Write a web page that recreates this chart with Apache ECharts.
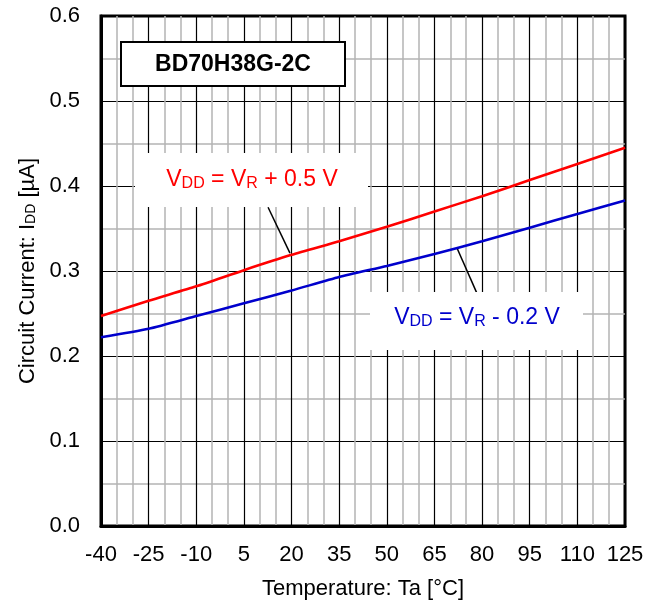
<!DOCTYPE html>
<html>
<head>
<meta charset="utf-8">
<script src="https://cdn.jsdelivr.net/npm/echarts@6/dist/echarts.min.js"></script>
<style>
  html, body { margin: 0; padding: 0; background: #fff; }
  #main { width: 664px; height: 611px; }
</style>
</head>
<body>
<div id="main"></div>
<script>
// temperatures [°C]
var temps = [-40, -25, -10, 5, 20, 35, 50, 65, 80, 95, 110, 125];
// IDD [uA] for VDD = VR + 0.5 V
var plus05 = [0.247, 0.265, 0.282, 0.301, 0.319, 0.335, 0.352, 0.370, 0.388, 0.407, 0.426, 0.445];
// IDD [uA] for VDD = VR - 0.2 V
var minus02 = [0.222, 0.232, 0.247, 0.262, 0.277, 0.293, 0.306, 0.320, 0.335, 0.351, 0.367, 0.383];

var font = 'Liberation Sans, Arial, sans-serif';

function pairs(xs, ys) {
	var out = [];
	for (var i = 0; i < xs.length; i++) {
		out.push([xs[i], ys[i]]);
	}
	return out;
}

var myChart = echarts.init(document.getElementById('main'));

var option = {
	animation: false,
	grid: {
		left: 101, right: 39, top: 16, bottom: 85,
		show: true, borderColor: '#000', borderWidth: 3, backgroundColor: '#fff'
	},
	xAxis: {
		type: 'value',
		min: -40, max: 125, interval: 15,
		name: 'Temperature: Ta [°C]',
		nameLocation: 'middle',
		nameGap: 52,
		nameTextStyle: { fontFamily: font, fontSize: 22, color: '#000' },
		axisLine: { show: true, onZero: false, lineStyle: { color: '#000', width: 3 } },
		axisTick: { show: false },
		axisLabel: { fontFamily: font, fontSize: 22, color: '#000', margin: 18 },
		splitLine: { show: true, lineStyle: { color: '#000', width: 1.2 } },
		minorTick: { show: false, splitNumber: 3 },
		minorSplitLine: { show: true, lineStyle: { color: '#b4b4b4', width: 1.5 } }
	},
	yAxis: {
		type: 'value',
		min: 0, max: 0.6, interval: 0.1,
		name: 'Circuit Current: I{sub|DD} [µA]',
		nameLocation: 'middle',
		nameGap: 60,
		nameTextStyle: {
			fontFamily: font, fontSize: 22, color: '#000',
			rich: { sub: { fontFamily: font, fontSize: 14, color: '#000', verticalAlign: 'bottom', lineHeight: 16 } }
		},
		axisLine: { show: true, onZero: false, lineStyle: { color: '#000', width: 3 } },
		axisTick: { show: false },
		axisLabel: {
			fontFamily: font, fontSize: 22, color: '#000', margin: 21,
			formatter: function (v) { return v.toFixed(1); }
		},
		splitLine: { show: true, lineStyle: { color: '#000', width: 1.2 } },
		minorTick: { show: false, splitNumber: 2 },
		minorSplitLine: { show: true, lineStyle: { color: '#b4b4b4', width: 1.5 } }
	},
	graphic: [
		{ type: 'rect', z: 100, shape: { x: 121, y: 42, width: 224, height: 44 },
		  style: { fill: '#fff', stroke: '#000', lineWidth: 2 } },
		{ type: 'text', z: 101, x: 233, y: 65,
		  style: { text: 'BD70H38G-2C', fontFamily: font, fontSize: 23, fontWeight: 'bold',
		           fill: '#000', align: 'center', verticalAlign: 'middle' } },
		{ type: 'rect', z: 100, shape: { x: 135, y: 153, width: 233, height: 54 },
		  style: { fill: '#fff' } },
		{ type: 'text', z: 101, x: 252, y: 180,
		  style: {
			text: 'V{s|DD} = V{s|R} + 0.5 V',
			fontFamily: font, fontSize: 23, fill: '#ff0000', align: 'center', verticalAlign: 'middle',
			rich: { s: { fontFamily: font, fontSize: 16, fill: '#ff0000', verticalAlign: 'bottom', lineHeight: 18 } }
		  } },
		{ type: 'rect', z: 100, shape: { x: 370, y: 292, width: 213, height: 58 },
		  style: { fill: '#fff' } },
		{ type: 'text', z: 101, x: 477, y: 318,
		  style: {
			text: 'V{s|DD} = V{s|R} - 0.2 V',
			fontFamily: font, fontSize: 23, fill: '#0000cc', align: 'center', verticalAlign: 'middle',
			rich: { s: { fontFamily: font, fontSize: 16, fill: '#0000cc', verticalAlign: 'bottom', lineHeight: 18 } }
		  } }
	],
	series: [
		{
			name: 'VDD = VR + 0.5 V',
			type: 'line',
			data: pairs(temps, plus05),
			smooth: 0.2,
			symbol: 'none',
			z: 120,
			lineStyle: { color: '#ff0000', width: 2.6 },
			markLine: {
				silent: true, symbol: 'none', label: { show: false },
				lineStyle: { color: '#000', width: 1.5, type: 'solid' },
				data: [[{ coord: [12.6, 0.375] }, { coord: [19.5, 0.321] }]]
			}
		},
		{
			name: 'VDD = VR - 0.2 V',
			type: 'line',
			data: pairs(temps, minus02),
			smooth: 0.2,
			symbol: 'none',
			z: 120,
			lineStyle: { color: '#0000cc', width: 2.6 },
			markLine: {
				silent: true, symbol: 'none', label: { show: false },
				lineStyle: { color: '#000', width: 1.5, type: 'solid' },
				data: [[{ coord: [72.1, 0.327] }, { coord: [78.7, 0.271] }]]
			}
		}
	]
};

myChart.setOption(option);
</script>
</body>
</html>
